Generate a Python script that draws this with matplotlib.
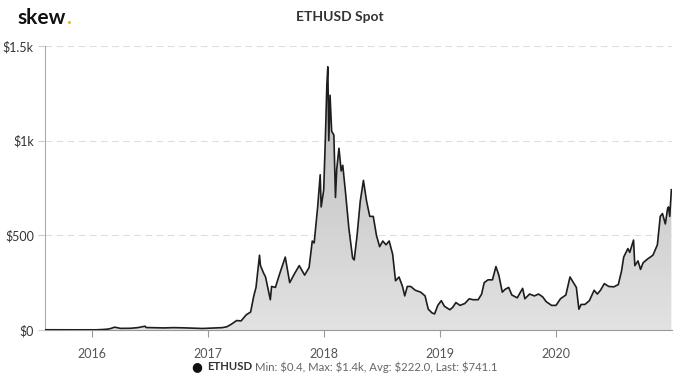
import numpy as np
import pandas as pd
import matplotlib
matplotlib.use("Agg")
import matplotlib.pyplot as plt
import matplotlib.dates as mdates

plt.rcParams['font.family'] = ['Lato', 'DejaVu Sans']

# ETHUSD spot, values
dates = [
    "2015-08-08", "2015-09-01", "2015-10-01", "2015-10-21", "2015-11-15", "2015-12-15",
    "2016-01-15", "2016-02-01", "2016-02-20", "2016-03-01", "2016-03-13", "2016-04-01",
    "2016-05-01", "2016-05-25", "2016-06-17", "2016-06-20", "2016-07-15", "2016-08-15",
    "2016-09-15", "2016-10-15", "2016-11-15", "2016-12-15", "2017-01-15", "2017-02-15",
    "2017-03-01", "2017-03-15", "2017-04-01", "2017-04-15", "2017-05-01", "2017-05-15",
    "2017-05-25", "2017-06-01", "2017-06-12", "2017-06-15", "2017-06-25", "2017-07-01",
    "2017-07-16", "2017-07-20", "2017-08-01", "2017-08-15", "2017-09-01", "2017-09-15",
    "2017-10-01", "2017-10-15", "2017-11-01", "2017-11-15", "2017-11-25", "2017-12-01",
    "2017-12-12", "2017-12-20", "2017-12-23", "2017-12-31", "2018-01-05", "2018-01-10",
    "2018-01-13", "2018-01-16", "2018-01-20", "2018-01-25", "2018-02-01", "2018-02-06",
    "2018-02-10", "2018-02-17", "2018-02-24", "2018-03-01", "2018-03-10", "2018-03-20",
    "2018-04-01", "2018-04-06", "2018-04-15", "2018-04-25", "2018-05-05", "2018-05-15",
    "2018-05-25", "2018-06-05", "2018-06-15", "2018-06-25", "2018-07-05", "2018-07-15",
    "2018-07-25", "2018-08-05", "2018-08-14", "2018-08-25", "2018-09-05", "2018-09-12",
    "2018-09-20", "2018-10-01", "2018-10-15", "2018-11-01", "2018-11-15", "2018-11-25",
    "2018-12-07", "2018-12-15", "2018-12-25", "2019-01-05", "2019-01-15", "2019-02-01",
    "2019-02-10", "2019-02-20", "2019-03-05", "2019-03-20", "2019-04-03", "2019-04-15",
    "2019-05-01", "2019-05-12", "2019-05-20", "2019-06-01", "2019-06-15", "2019-06-26",
    "2019-07-05", "2019-07-16", "2019-07-25", "2019-08-05", "2019-08-15", "2019-09-01",
    "2019-09-18", "2019-09-25", "2019-10-10", "2019-10-25", "2019-11-07", "2019-11-20",
    "2019-12-01", "2019-12-18", "2020-01-01", "2020-01-15", "2020-02-01", "2020-02-14",
    "2020-02-25", "2020-03-05", "2020-03-13", "2020-03-20", "2020-04-01", "2020-04-15",
    "2020-04-30", "2020-05-10", "2020-05-20", "2020-06-01", "2020-06-15", "2020-07-01",
    "2020-07-15", "2020-07-25", "2020-08-01", "2020-08-14", "2020-08-20", "2020-09-01",
    "2020-09-05", "2020-09-15", "2020-09-23", "2020-10-01", "2020-10-15", "2020-11-01",
    "2020-11-15", "2020-11-24", "2020-12-01", "2020-12-10", "2020-12-17", "2020-12-20",
    "2020-12-24", "2020-12-29",
]
prices = [
    1.2, 1.0, 0.7, 0.4, 0.9, 0.9,
    1.0, 2.3, 4.5, 8.0, 15.0, 8.5,
    9.0, 12.5, 20.0, 13.0, 12.0, 11.0,
    12.5, 11.5, 9.5, 8.0, 10.0, 12.5,
    17.0, 30.0, 50.0, 48.0, 80.0, 95.0,
    180.0, 225.0, 395.0, 340.0, 300.0, 280.0,
    160.0, 230.0, 225.0, 300.0, 385.0, 250.0,
    300.0, 340.0, 290.0, 330.0, 470.0, 460.0,
    650.0, 820.0, 650.0, 740.0, 1000.0, 1300.0,
    1390.0, 1000.0, 1240.0, 1050.0, 1030.0, 700.0,
    850.0, 960.0, 840.0, 870.0, 720.0, 540.0,
    380.0, 370.0, 500.0, 680.0, 790.0, 680.0,
    600.0, 600.0, 500.0, 440.0, 470.0, 450.0,
    470.0, 400.0, 260.0, 280.0, 230.0, 180.0,
    230.0, 230.0, 210.0, 200.0, 180.0, 110.0,
    90.0, 85.0, 130.0, 155.0, 125.0, 107.0,
    120.0, 145.0, 130.0, 140.0, 165.0, 160.0,
    160.0, 190.0, 250.0, 265.0, 265.0, 335.0,
    290.0, 200.0, 215.0, 225.0, 185.0, 170.0,
    220.0, 165.0, 190.0, 180.0, 190.0, 175.0,
    150.0, 130.0, 130.0, 165.0, 185.0, 280.0,
    250.0, 225.0, 110.0, 135.0, 135.0, 155.0,
    210.0, 190.0, 210.0, 245.0, 230.0, 228.0,
    240.0, 310.0, 385.0, 430.0, 410.0, 475.0,
    340.0, 365.0, 320.0, 355.0, 375.0, 395.0,
    450.0, 600.0, 615.0, 560.0, 640.0, 650.0,
    600.0, 741.1,
]
y_ticks = [0, 500, 1000, 1500]
y_labels = ["$0", "$500", "$1k", "$1.5k"]
legend_stats = "Min: $0.4, Max: $1.4k, Avg: $222.0, Last: $741.1"

x = mdates.date2num(pd.to_datetime(dates))
y = np.array(prices)

W, H = 680, 380
fig = plt.figure(figsize=(6.8, 3.8), dpi=100)
ax = fig.add_axes([45 / W, 1 - 330 / H, 627 / W, 284 / H])

# gradient fill under the line, clipped to the area
poly = ax.fill_between(x, 0, y, color="none", lw=0)
grad = np.linspace(0, 1, 256).reshape(-1, 1)
cmap = matplotlib.colors.LinearSegmentedColormap.from_list("g", ["#e2e2e2", "#b8b8b8"])
img = ax.imshow(grad, extent=[x[0], x[-1], 0, 1500], origin="lower", aspect="auto",
                cmap=cmap, zorder=1)
img.set_clip_path(poly.get_paths()[0], transform=ax.transData)
ax.plot(x, y, color="#1e1e1e", lw=1.2, zorder=3)

ax.set_xlim(mdates.date2num(pd.Timestamp("2015-08-07")), mdates.date2num(pd.Timestamp("2020-12-31")))
ax.set_ylim(0, 1500)
ax.set_yticks(y_ticks)
ax.set_yticklabels(y_labels)
ax.xaxis.set_major_locator(mdates.YearLocator())
ax.xaxis.set_major_formatter(mdates.DateFormatter("%Y"))

for v in y_ticks[1:]:
    ax.axhline(v, color="#dddddd", lw=0.8, ls=(0, (6, 4)), zorder=0)

for s in ["top", "right"]:
    ax.spines[s].set_visible(False)
ax.spines["left"].set_color("#aaaaaa")
ax.spines["bottom"].set_color("#999999")
ax.tick_params(axis="y", length=5, color="#cccccc", labelsize=9, labelcolor="#333333", pad=3)
ax.tick_params(axis="x", length=5, color="#999999", labelsize=9, labelcolor="#555555", pad=8)

fig.text(0.5, 1 - 17 / H, "ETHUSD Spot", ha="center", va="center", fontsize=10,
         fontweight="bold", color="#333333")

# logo
logo = fig.text(17 / W, 1 - 24 / H, "skew", ha="left", va="baseline", fontsize=15,
                fontweight="bold", color="#111111")
fig.canvas.draw()
lb = logo.get_window_extent()
fig.text(lb.x1 / W + 1 / W, 1 - 24 / H, ".", ha="left", va="baseline", fontsize=15,
         fontweight="bold", color="#f0b429")

# legend line at the bottom
fig.text(197 / W, 1 - 367 / H, "\u25cf", ha="center", va="center", fontsize=9,
         color="#111111", family="DejaVu Sans")
t = fig.text(207 / W, 1 - 367 / H, "ETHUSD", ha="left", va="center", fontsize=8.2,
             fontweight="bold", color="#333333")
fig.canvas.draw()
bb = t.get_window_extent()
fig.text(bb.x1 / W + 3 / W, 1 - 367 / H, legend_stats, ha="left", va="center", fontsize=8.2,
         color="#666666", parse_math=False)

fig.savefig("out.png", dpi=100)
